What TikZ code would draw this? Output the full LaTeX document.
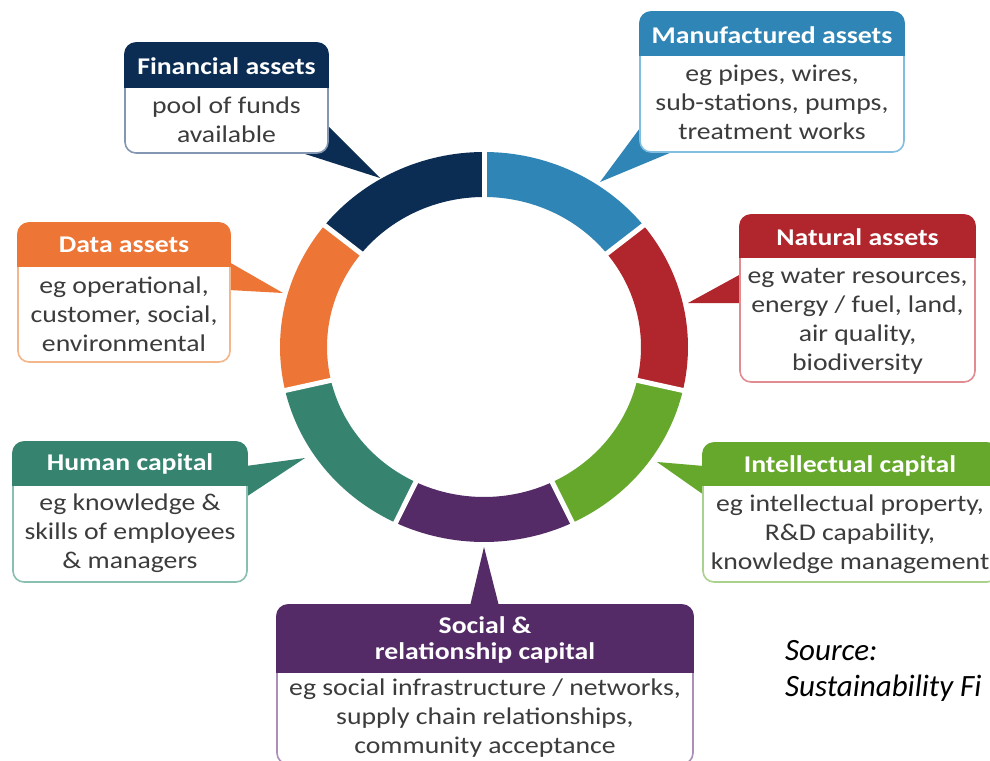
\documentclass[tikz,border=0pt]{standalone}
\usepackage{fontspec}
\setmainfont{Carlito}[FakeStretch=1.155]
\newfontfamily\srcfont{Carlito}
\definecolor{cnavy}{HTML}{0B2D53}
\definecolor{lnavy}{HTML}{8396B2}
\definecolor{cblue}{HTML}{2F85B6}
\definecolor{lblue}{HTML}{82BEE0}
\definecolor{cred}{HTML}{B1262C}
\definecolor{lred}{HTML}{E08C90}
\definecolor{cgreen}{HTML}{66A82C}
\definecolor{lgreen}{HTML}{AAD28C}
\definecolor{cpurple}{HTML}{542A67}
\definecolor{lpurple}{HTML}{AA90B8}
\definecolor{cteal}{HTML}{36836F}
\definecolor{lteal}{HTML}{88BFB1}
\definecolor{corange}{HTML}{ED7535}
\definecolor{lorange}{HTML}{F5B68C}
\definecolor{bodytext}{HTML}{3C3C3C}
\newcommand\mybox[7]{%
  \filldraw[fill=white, draw=#7, line width=1.6pt, rounded corners=11pt] (#1,#3) rectangle (#2,#5);
  \filldraw[fill=#6, draw=#6, line width=1.6pt] (#1,#4) [rounded corners=11pt]-- (#1,#3) -- (#2,#3) [sharp corners]-- (#2,#4) -- cycle;
}
\tikzset{
  head/.style={text=white, font=\fontsize{24}{26}\selectfont\bfseries, align=center, inner sep=0pt},
  bodytxt/.style={text=bodytext, font=\fontsize{24}{29}\selectfont, align=center, inner sep=0pt},
  srctxt/.style={text=black, font=\srcfont\fontsize{31}{37}\selectfont\itshape, align=left, inner sep=0pt, anchor=west},
}
\begin{document}
\begin{tikzpicture}[x=1pt,y=1pt,yscale=-1]
\useasboundingbox (0,0) rectangle (990,760);
\fill[white] (0,0) rectangle (990,760);
\clip (0,0) rectangle (990,760);

% ring
\begin{scope}[shift={(484,347)}]
\foreach \col [count=\k from 0] in {cblue,cred,cgreen,cpurple,cteal,corange,cnavy}{
  \pgfmathsetmacro\aa{-90+\k*360/7}
  \pgfmathsetmacro\ab{-90+(\k+1)*360/7}
  \fill[\col] (\aa:204 and 195) arc[start angle=\aa, end angle=\ab, x radius=204, y radius=195]
     -- (\ab:157 and 150) arc[start angle=\ab, end angle=\aa, x radius=157, y radius=150] -- cycle;
}
\foreach \k in {0,...,6}{
  \pgfmathsetmacro\aa{-90+\k*360/7}
  \draw[white, line width=5pt] (\aa:150 and 143) -- (\aa:212 and 203);
}
\end{scope}

% pointer tips and bases
\coordinate (finTip) at (380,178); \coordinate (finA) at (328,126); \coordinate (finB) at (302,153);
\coordinate (manTip) at (600,182); \coordinate (manA) at (640,128); \coordinate (manB) at (672,152);
\coordinate (natTip) at (688,303); \coordinate (natA) at (741,274); \coordinate (natB) at (741,303);
\coordinate (datTip) at (283,293); \coordinate (datA) at (229,262); \coordinate (datB) at (229,290);
\coordinate (humTip) at (305,458); \coordinate (humA) at (246,466); \coordinate (humB) at (246,497);
\coordinate (intTip) at (657,462); \coordinate (intA) at (704,466); \coordinate (intB) at (704,495);
\coordinate (socTip) at (484,547); \coordinate (socA) at (470,606); \coordinate (socB) at (499,606);
\fill[cnavy] (finA) -- (finTip) -- (finB) -- cycle;
\fill[cblue] (manA) -- (manTip) -- (manB) -- cycle;
\fill[cred] (natA) -- (natTip) -- (natB) -- cycle;
\fill[corange] (datA) -- (datTip) -- (datB) -- cycle;
\fill[cteal] (humA) -- (humTip) -- (humB) -- cycle;
\fill[cgreen] (intA) -- (intTip) -- (intB) -- cycle;
\fill[cpurple] (socA) -- (socTip) -- (socB) -- cycle;

% boxes
\mybox{125}{328}{43}{87}{153}{cnavy}{lnavy}
\mybox{640}{904}{12}{55}{152}{cblue}{lblue}
\mybox{740}{975}{215}{257}{382}{cred}{lred}
\mybox{18}{230}{223}{266}{362}{corange}{lorange}
\mybox{13}{247}{442}{485}{582}{cteal}{lteal}
\mybox{703}{998}{443}{485}{582}{cgreen}{lgreen}
\mybox{277}{693}{605}{672}{764}{cpurple}{lpurple}

% texts
\node[head] (finH) at (226.5,66) {Financial assets};
\node[bodytxt] (finT) at (226.5,119.5) {pool of funds\\available};
\node[head] (manH) at (772,35) {Manufactured assets};
\node[bodytxt] (manT) at (772,102.5) {eg pipes, wires,\\sub-stations, pumps,\\treatment works};
\node[head] (natH) at (857.5,237) {Natural assets};
\node[bodytxt] (natT) at (857.5,321) {eg water resources,\\energy / fuel, land,\\air quality,\\biodiversity};
\node[head] (datH) at (124,245) {Data assets};
\node[bodytxt] (datT) at (124,314) {eg operational,\\customer, social,\\environmental};
\node[head] (humH) at (130,464) {Human capital};
\node[bodytxt] (humT) at (130,533.5) {eg knowledge \&\\skills of employees\\\& managers};
\node[head] (intH) at (850,465.5) {Intellectual capital};
\node[bodytxt] (intT) at (850,534) {eg intellectual property,\\R\&D capability,\\knowledge management};
\node[head] (socH) at (485,640) {Social \&\\relationship capital};
\node[bodytxt] (socT) at (485,718) {eg social infrastructure / networks,\\supply chain relationships,\\community acceptance};
\node[srctxt] (src1) at (785,651) {Source:};
\node[srctxt] (src2) at (785,688) {Sustainability Fi};
\end{tikzpicture}
\end{document}
